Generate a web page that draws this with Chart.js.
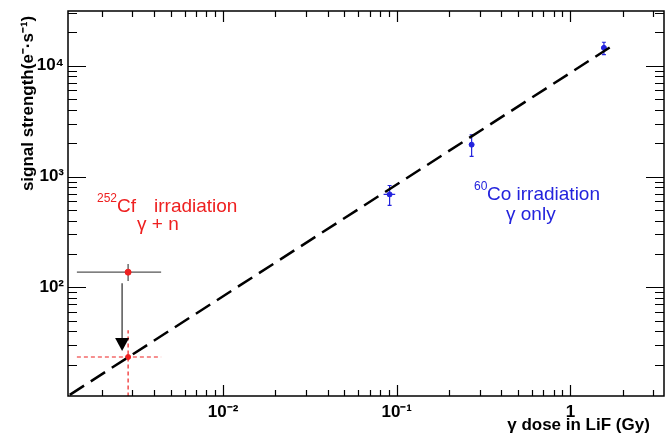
<!DOCTYPE html>
<html>
<head>
<meta charset="utf-8">
<script src="https://cdn.jsdelivr.net/npm/chart.js@4"></script>
<style>
  html, body { margin: 0; padding: 0; background: #fff; }
</style>
</head>
<body>
<canvas id="chart" width="665" height="436"></canvas>
<script>
// 60Co irradiation, gamma only
const coDose = [0.091, 0.27, 1.56];
const coDoseLo = [0.084, 0.262, 1.51];
const coDoseHi = [0.098, 0.278, 1.61];
const coSignal = [690, 1940, 14500];
const coSignalLo = [550, 1520, 12600];
const coSignalHi = [830, 2380, 16300];

// 252Cf irradiation, gamma + n (measured)
const cfDose = [2.84e-3];
const cfDoseLo = [1.44e-3];
const cfDoseHi = [4.4e-3];
const cfSignal = [137];
const cfSignalLo = [114];
const cfSignalHi = [162];

// 252Cf, gamma part only
const cfGammaSignal = [23.5];
const cfGammaSignalLo = [5];
const cfGammaSignalHi = [41];

// dashed fit line
const fitDose = [1.31e-3, 1.73];
const fitSignal = [10.7, 15000];

const xTickValues = [1e-2, 1e-1, 1];
const xTickLabels = ['10⁻²', '10⁻¹', '1'];
const yTickValues = [1e2, 1e3, 1e4];
const yTickLabels = ['10²', '10³', '10⁴'];

const RED = '#ee2020';
const BLUE = '#2323dd';
const FONT = '"Liberation Sans", Arial, Helvetica, sans-serif';

function pts(xs, ys) {
  return xs.map((x, i) => ({ x: x, y: ys[i] }));
}

// error bars, drawn under the markers
const errorBars = {
  id: 'errorBars',
  beforeDatasetsDraw(chart) {
    const { ctx, chartArea, scales: { x, y } } = chart;
    ctx.save();
    ctx.beginPath();
    ctx.rect(chartArea.left, chartArea.top, chartArea.width, chartArea.height);
    ctx.clip();
    chart.data.datasets.forEach(ds => {
      const e = ds.errors;
      if (!e) return;
      ctx.strokeStyle = e.color;
      ctx.lineWidth = e.width;
      ctx.setLineDash(e.dash || []);
      ds.data.forEach((p, i) => {
        const px = x.getPixelForValue(p.x);
        const py = y.getPixelForValue(p.y);
        const yl = y.getPixelForValue(e.yLo[i]);
        const yh = y.getPixelForValue(e.yHi[i]);
        ctx.beginPath();
        ctx.moveTo(x.getPixelForValue(e.xLo[i]), py);
        ctx.lineTo(x.getPixelForValue(e.xHi[i]), py);
        ctx.moveTo(px, yl);
        ctx.lineTo(px, yh);
        if (e.cap) {
          ctx.moveTo(px - e.cap, yl);
          ctx.lineTo(px + e.cap, yl);
          ctx.moveTo(px - e.cap, yh);
          ctx.lineTo(px + e.cap, yh);
        }
        ctx.stroke();
      });
    });
    ctx.restore();
  }
};

// ROOT style frame with inward ticks on all four sides
const frame = {
  id: 'frame',
  afterDraw(chart) {
    const { ctx, chartArea: a, scales: { x, y } } = chart;
    ctx.save();
    ctx.strokeStyle = '#000';
    ctx.lineWidth = 1.2;
    ctx.beginPath();
    for (let d = -3; d <= 4; d++) {
      for (let m = 1; m <= 9; m++) {
        const v = m * Math.pow(10, d);
        if (v > x.min && v < x.max) {
          const px = Math.round(x.getPixelForValue(v)) + 0.5;
          const len = m === 1 ? 11 : 6;
          ctx.moveTo(px, a.bottom);
          ctx.lineTo(px, a.bottom - len);
          ctx.moveTo(px, a.top);
          ctx.lineTo(px, a.top + len);
        }
        if (v > y.min && v < y.max) {
          const py = Math.round(y.getPixelForValue(v)) + 0.5;
          const len = m === 1 ? 18 : 9;
          ctx.moveTo(a.left, py);
          ctx.lineTo(a.left + len, py);
          ctx.moveTo(a.right, py);
          ctx.lineTo(a.right - len, py);
        }
      }
    }
    ctx.stroke();
    ctx.lineWidth = 1.5;
    ctx.strokeRect(a.left, a.top, a.width, a.height);

    // arrow from the measured Cf point down to the gamma part
    const ax = x.getPixelForValue(cfDose[0]) - 6;
    const y0 = y.getPixelForValue(cfSignal[0]) + 11;
    const y1 = y.getPixelForValue(cfGammaSignal[0]) - 6;
    ctx.strokeStyle = '#555';
    ctx.lineWidth = 1.5;
    ctx.beginPath();
    ctx.moveTo(ax, y0);
    ctx.lineTo(ax, y1 - 10);
    ctx.stroke();
    ctx.fillStyle = '#000';
    ctx.beginPath();
    ctx.moveTo(ax - 7, y1 - 13);
    ctx.lineTo(ax + 7, y1 - 13);
    ctx.lineTo(ax, y1);
    ctx.closePath();
    ctx.fill();

    // labels
    ctx.textBaseline = 'alphabetic';
    ctx.fillStyle = RED;
    ctx.font = '12px ' + FONT;
    ctx.fillText('252', 97, 202);
    ctx.font = '19px ' + FONT;
    ctx.fillText('Cf', 117, 212);
    ctx.fillText('irradiation', 154, 212);
    ctx.fillText('\u03b3 + n', 137, 230);

    ctx.fillStyle = BLUE;
    ctx.font = '12px ' + FONT;
    ctx.fillText('60', 474, 190);
    ctx.font = '19px ' + FONT;
    ctx.fillText('Co irradiation', 487, 200);
    ctx.fillText('\u03b3 only', 506, 220);
    ctx.restore();
  }
};

new Chart(document.getElementById('chart'), {
  type: 'scatter',
  data: {
    datasets: [
      {
        type: 'line',
        data: pts(fitDose, fitSignal),
        borderColor: '#000',
        borderWidth: 2.5,
        borderDash: [17, 8],
        pointRadius: 0,
        fill: false
      },
      {
        data: pts(coDose, coSignal),
        backgroundColor: BLUE,
        borderColor: BLUE,
        pointRadius: 2.5,
        errors: { xLo: coDoseLo, xHi: coDoseHi, yLo: coSignalLo, yHi: coSignalHi, color: BLUE, width: 1.2, cap: 2 }
      },
      {
        data: pts(cfDose, cfSignal),
        backgroundColor: RED,
        borderColor: RED,
        pointRadius: 3,
        errors: { xLo: cfDoseLo, xHi: cfDoseHi, yLo: cfSignalLo, yHi: cfSignalHi, color: '#555', width: 1.3 }
      },
      {
        data: pts(cfDose, cfGammaSignal),
        backgroundColor: RED,
        borderColor: RED,
        pointRadius: 2.5,
        errors: { xLo: cfDoseLo, xHi: cfDoseHi, yLo: cfGammaSignalLo, yHi: cfGammaSignalHi, color: RED, width: 1.2, dash: [4, 3] }
      }
    ]
  },
  options: {
    responsive: false,
    animation: false,
    devicePixelRatio: 1,
    layout: { autoPadding: false, padding: { top: 11, right: 1, left: 0, bottom: 0 } },
    plugins: { legend: { display: false }, tooltip: { enabled: false } },
    scales: {
      x: {
        type: 'logarithmic',
        min: 1.28e-3,
        max: 3.46,
        afterBuildTicks: s => { s.ticks = xTickValues.map(v => ({ value: v })); },
        afterFit: s => { s.height = 40; s.paddingLeft = 0; s.paddingRight = 0; },
        grid: { display: false, drawTicks: false },
        border: { display: false },
        ticks: {
          callback: (v, i) => xTickLabels[i],
          font: { family: FONT, size: 17, weight: 'bold' },
          color: '#000',
          padding: 6,
          maxRotation: 0,
          autoSkip: false
        },
        title: {
          display: true,
          text: '\u03b3 dose in LiF (Gy)\u00a0\u00a0\u00a0',
          align: 'end',
          color: '#000',
          font: { family: FONT, size: 17, weight: 'bold' },
          padding: { bottom: 0, top: 0 }
        }
      },
      y: {
        type: 'logarithmic',
        min: 10.45,
        max: 31200,
        afterBuildTicks: s => { s.ticks = yTickValues.map(v => ({ value: v })); },
        afterFit: s => { s.width = 68; s.paddingTop = 0; s.paddingBottom = 0; },
        grid: { display: false, drawTicks: false },
        border: { display: false },
        ticks: {
          callback: (v, i) => yTickLabels[i],
          font: { family: FONT, size: 17, weight: 'bold' },
          color: '#000',
          padding: 4,
          autoSkip: false
        },
        title: {
          display: true,
          text: 'signal strength(e⁻·s⁻¹)\u00a0',
          align: 'end',
          color: '#000',
          font: { family: FONT, size: 17, weight: 'bold' },
          padding: { top: 18, bottom: 0 }
        }
      }
    }
  },
  plugins: [errorBars, frame]
});
</script>
</body>
</html>
